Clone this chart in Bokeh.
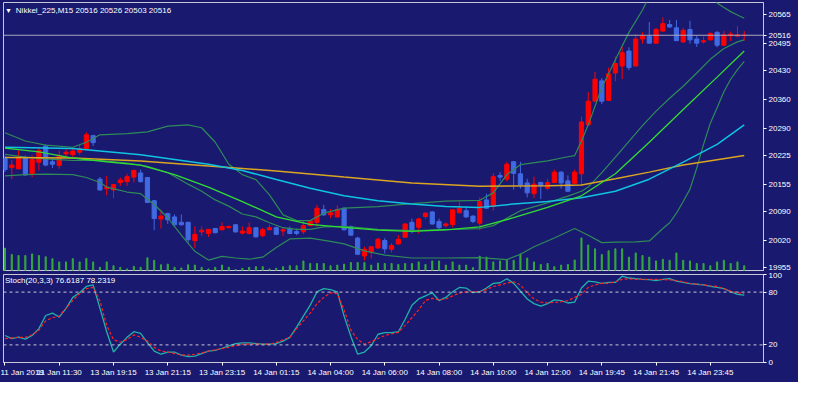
from bokeh.plotting import figure
from bokeh.models import Range1d, FixedTicker, Span, Label, ColumnDataSource
from bokeh.layouts import column
from bokeh.embed import file_html
from bokeh.resources import INLINE

# ---------------- data ----------------
opens = [20219,20197,20194,20219,20182,20210,20249,20211,20202,20230,
         20228,20234,20243,20274,20169,20146,20143,20161,20163,20174,
         20184,20173,20117,20073,20086,20078,20065,20065,20021,20042,
         20038,20050,20047,20052,20059,20039,20038,20052,20033,20047,
         20052,20044,20050,20043,20042,20057,20065,20096,20083,20078,
         20099,20055,20027,19984,19993,20003,20021,20000,20013,20029,
         20065,20053,20079,20090,20067,20057,20060,20088,20093,20080,
         20063,20119,20103,20178,20169,20211,20182,20160,20134,20161,
         20147,20161,20186,20165,20159,20182,20300,20357,20406,20359,
         20425,20442,20478,20442,20507,20513,20497,20526,20542,20534,
         20500,20530,20507,20500,20505,20523,20492,20515,20514,20516]
highs = [20226,20215,20238,20226,20226,20246,20253,20220,20238,20242,
         20246,20253,20282,20276,20174,20177,20157,20173,20182,20192,
         20192,20174,20119,20096,20088,20084,20084,20066,20055,20055,
         20048,20051,20065,20057,20061,20055,20065,20053,20052,20059,
         20055,20052,20055,20050,20069,20069,20107,20107,20097,20106,
         20100,20057,20030,20006,20007,20028,20027,20015,20034,20062,
         20074,20076,20090,20092,20074,20065,20095,20115,20103,20082,
         20125,20134,20183,20186,20211,20213,20211,20170,20175,20163,
         20170,20192,20188,20178,20192,20320,20379,20428,20413,20438,
         20465,20488,20487,20519,20523,20548,20534,20559,20553,20553,
         20534,20551,20515,20513,20523,20526,20526,20525,20538,20526]
lows = [20186,20169,20193,20177,20174,20190,20200,20196,20194,20223,
        20223,20228,20242,20249,20141,20130,20123,20153,20153,20161,
        20161,20111,20046,20050,20061,20053,20057,20015,20003,20032,
        20030,20038,20046,20050,20040,20036,20036,20028,20029,20046,
        20034,20032,20036,20034,20036,20055,20055,20080,20075,20077,
        20045,20032,19986,19973,19978,20002,19990,19992,20011,20029,
        20038,20038,20073,20059,20048,20052,20053,20087,20076,20063,
        20046,20098,20093,20165,20163,20144,20146,20125,20123,20121,
        20142,20160,20146,20138,20158,20153,20298,20356,20350,20358,
        20405,20410,20432,20441,20496,20496,20496,20525,20534,20502,
        20497,20496,20488,20496,20503,20487,20490,20502,20511,20503]
closes = [20192,20203,20223,20179,20216,20238,20203,20205,20226,20234,
          20237,20242,20276,20257,20143,20150,20156,20167,20175,20190,
          20163,20113,20074,20080,20071,20059,20059,20023,20036,20046,
          20048,20040,20055,20055,20042,20044,20052,20030,20047,20052,
          20036,20047,20038,20038,20057,20069,20099,20083,20088,20096,
          20047,20034,19988,20000,20006,20024,20001,20009,20024,20061,
          20046,20073,20087,20061,20052,20061,20095,20099,20078,20067,
          20115,20099,20175,20174,20205,20183,20155,20136,20157,20154,
          20161,20186,20160,20140,20186,20307,20357,20410,20357,20423,
          20448,20474,20438,20507,20515,20497,20530,20544,20536,20503,
          20528,20505,20497,20503,20520,20492,20517,20519,20517,20516]
volumes = [700,500,470,470,520,470,430,370,270,270,
           370,270,380,270,100,270,150,100,50,130,
           100,400,320,180,200,100,80,180,170,100,
           50,100,170,100,30,70,100,120,120,50,
           70,120,150,150,300,220,220,220,150,170,
           200,250,250,250,170,230,220,220,190,220,
           220,270,190,300,300,170,270,170,170,90,
           450,420,270,300,320,320,520,390,270,190,
           220,120,170,190,330,1020,800,680,500,620,
           680,680,420,550,470,420,300,350,320,550,
           320,300,220,220,150,270,320,220,270,150]

gold_x = [0, 10, 20, 30, 40, 50, 60, 70, 80, 85, 90, 95, 100, 105, 109]
gold_ma = [20221, 20220, 20213, 20201, 20189, 20174, 20160, 20152, 20153, 20155,
           20170, 20186, 20203, 20216, 20226]
cyan_x = [0, 10, 20, 30, 35, 40, 45, 50, 55, 60, 65, 70, 75, 80, 85, 90, 95, 100, 105, 109]
cyan_ma = [20246, 20243, 20228, 20205, 20190, 20168, 20147, 20129, 20117, 20109,
           20103, 20101, 20109, 20115, 20124, 20140, 20169, 20210, 20253, 20300]
green_x = [0, 5, 10, 15, 20, 25, 30, 35, 40, 45, 50, 55, 60, 65, 70, 75, 80, 85,
           90, 95, 100, 105, 109]
green_ma = [20244, 20235, 20220, 20211, 20203, 20180, 20150, 20115, 20078, 20060,
            20053, 20046, 20043, 20047, 20054, 20076, 20101, 20129, 20182, 20258,
            20337, 20415, 20478]

bb_up_x = [0, 3, 6, 10, 12, 14, 18, 21, 24, 27, 29, 31, 33, 35, 37, 39, 41, 43, 45, 47,
           50, 55, 60, 65, 70, 72, 74, 76, 80, 83, 84, 85, 86, 88, 90, 92, 94, 95, 96,
           97, 98, 99, 100, 101, 102, 103, 104, 105, 106, 107, 108, 109]
bb_upper = [20281, 20261, 20251, 20246, 20258, 20276, 20279, 20283, 20297, 20300,
            20293, 20258, 20205, 20180, 20168, 20131, 20083, 20069, 20069, 20087,
            20099, 20103, 20110, 20116, 20118, 20136, 20180, 20204, 20213, 20223,
            20226, 20261, 20300, 20390, 20457, 20523, 20577, 20610, 20630, 20650,
            20665, 20672, 20670, 20660, 20648, 20630, 20612, 20594, 20583, 20573,
            20565, 20557]
bb_mid_x = [0, 3, 6, 10, 14, 18, 21, 24, 27, 29, 31, 33, 35, 37, 39, 41, 43, 45, 47, 50,
            55, 60, 65, 70, 72, 74, 76, 80, 83, 85, 86, 88, 90, 92, 94, 96, 98, 100,
            102, 104, 106, 108, 109]
bb_middle = [20229, 20222, 20218, 20214, 20214, 20208, 20200, 20185, 20157, 20140,
             20119, 20104, 20085, 20078, 20064, 20052, 20048, 20048, 20054, 20055,
             20048, 20045, 20047, 20050, 20057, 20075, 20093, 20112, 20128, 20140,
             20150, 20185, 20222, 20260, 20298, 20333, 20364, 20393, 20425, 20458,
             20484, 20500, 20505]
bb_lo_x = [0, 3, 6, 10, 12, 14, 15, 18, 20, 22, 24, 26, 28, 30, 32, 34, 36, 38, 40, 42,
           45, 48, 50, 53, 56, 60, 65, 70, 74, 76, 78, 81, 84, 86, 88, 90, 93, 95, 97,
           98, 99, 100, 101, 102, 103, 104, 105, 106, 107, 108, 109]
bb_lower = [20177, 20180, 20181, 20180, 20173, 20161, 20150, 20138, 20134, 20108,
            20076, 20034, 19995, 19974, 19983, 19979, 19976, 19981, 20004, 20025,
            20027, 20019, 20013, 19996, 19986, 19979, 19979, 19980, 19975, 19988,
            20006, 20027, 20050, 20034, 20016, 20017, 20018, 20020, 20050, 20064,
            20087, 20115, 20145, 20196, 20253, 20304, 20341, 20380, 20410, 20433,
            20453]

stoch_k = [30.7,27.2,28.9,26.5,30.7,38.5,53.4,56.2,51.6,61.6,
           74,79.3,86.4,88.2,61.6,35,11.9,20.8,28.6,35,
           33.2,22.6,13,9.4,11.9,11.9,8.4,6.6,7.3,10.1,
           13,13.7,16.2,19,21.5,22.2,22.2,21.5,20.8,20.8,
           21.5,24.3,28.6,40.3,52.7,65.1,80.4,83.9,82.8,80.4,
           52.7,29.6,9.4,11.9,19,32.1,33.9,33.9,35,49.1,
           65.1,72.2,75.7,79.3,70.4,74,80.4,85.3,84.6,79.3,
           80.4,84.6,89.9,90.6,95.2,89.9,81.1,72.2,66.9,64,
           66.9,71.1,70.4,67.6,68.7,84.6,92.4,91.7,89.9,91,
           91,98.1,96,95.2,94.5,94.2,93.1,94.5,95.2,92.4,
           91,89.6,88.9,88.2,86.4,85.3,83.9,80.4,77.5,76.6187]
stoch_d = [27.2,27.9,28.6,28.6,31.4,36.7,47.4,50.9,52.7,61.6,
           70.4,78.2,83.9,85.3,70,42,26,23,26.1,31.4,
           28.6,24.3,17.2,13,11.9,10.1,8.7,8.4,9.4,10.9,
           13,14.4,15.8,17.2,19.4,20.8,20.8,20.8,20.8,20.8,
           22.9,25.7,28.6,38.5,47.4,56.2,66.9,74,79.3,78.2,
           59.8,36.7,26.1,20.8,23.6,27.2,30.7,32.5,34.3,42.1,
           50.9,59.8,70.4,72.9,71.1,72.2,75.7,78.9,80.4,80.4,
           80.4,82.8,86.4,88.2,90.3,91.7,88.2,79.3,72.2,68.7,
           67.6,68.3,69,70.4,74,77.5,85.3,88.2,89.9,89.9,
           91.7,94.5,95.2,94.5,94.5,94.5,94.5,94.2,93.8,93.1,
           91.7,89.9,88.9,88.2,87.1,86.4,83.9,81.1,79.3,78.2319]

price_ticks = [19955, 20020, 20090, 20155, 20225, 20290, 20360, 20430, 20495, 20565]
stoch_ticks = [0, 20, 80, 100]
time_tick_idx = [0, 8, 16, 24, 32, 40, 48, 56, 64, 72, 80, 88, 96, 104]
time_labels = ["11 Jan 2019", "11 Jan 11:30", "13 Jan 19:15", "13 Jan 21:15",
               "13 Jan 23:15", "14 Jan 01:15", "14 Jan 04:00", "14 Jan 06:00",
               "14 Jan 08:00", "14 Jan 10:00", "14 Jan 12:00", "14 Jan 19:45",
               "14 Jan 21:45", "14 Jan 23:45"]

# ---------------- style ----------------
BG = "#191970"
FONT = "Liberation Sans"
FS = "8px"
BULL = "#FF0000"
BEAR = "#4169E1"
FRAME = "#C8C8D4"

idx = list(range(len(opens)))
src = ColumnDataSource(dict(
    x=idx, h=highs, l=lows,
    top=[max(o, c) for o, c in zip(opens, closes)],
    bottom=[min(o, c) for o, c in zip(opens, closes)],
    color=[BULL if c >= o else BEAR for o, c in zip(opens, closes)],
    vol=volumes))

x_range = Range1d(-0.22, 111.84)

p = figure(width=798, height=272, x_range=x_range, y_range=Range1d(19948.8, 20595),
           output_backend="svg", toolbar_location=None, y_axis_location="right",
           min_border_left=3, min_border_right=35, min_border_top=2, min_border_bottom=2,
           background_fill_color=BG, border_fill_color=BG,
           outline_line_color=FRAME, outline_line_width=1)
p.xaxis.visible = False
p.grid.visible = False
p.extra_y_ranges = {"vol": Range1d(0, 8400)}

yax = p.yaxis[0]
# price scale ticks plus the current bid price shown on the scale
yax.ticker = FixedTicker(ticks=price_ticks + [closes[-1]])
yax.major_label_text_color = "white"
yax.major_label_text_font = FONT
yax.major_label_text_font_size = FS
yax.major_tick_line_color = "white"
yax.major_tick_out = 3
yax.major_tick_in = 0
yax.minor_tick_line_color = None
yax.axis_line_color = FRAME
yax.major_label_standoff = 2

# volumes
p.vbar(x="x", top="vol", bottom=0, width=0.16, y_range_name="vol",
       color="#36A83E", source=src)

# candles
p.segment(x0="x", y0="l", x1="x", y1="h", color="color", line_width=1, source=src)
p.vbar(x="x", top="top", bottom="bottom", width=0.62, fill_color="color",
       line_color="color", line_width=1, source=src)

# indicators
p.line(bb_up_x, bb_upper, color="#2E8B57", line_width=1.2)
p.line(bb_mid_x, bb_middle, color="#2E8B57", line_width=1.2)
p.line(bb_lo_x, bb_lower, color="#2E8B57", line_width=1.2)
p.line(gold_x, gold_ma, color="#DAA520", line_width=1.5)
p.line(cyan_x, cyan_ma, color="#10C4E0", line_width=1.5)
p.line(green_x, green_ma, color="#32DC32", line_width=1.3)

# bid line
p.add_layout(Span(location=closes[-1], dimension="width", line_color="#A8A8BC",
                  line_width=1))
p.add_layout(Label(x=0.0, y=20576.5, text="\u25BC", text_font=FONT,
                   text_font_size="7px", text_color="white", text_baseline="middle"))
p.add_layout(Label(x=1.6, y=20576.5,
                   text=f"Nikkei_225,M15  {opens[-1]} {highs[-1]} {lows[-1]} {closes[-1]}",
                   text_font=FONT, text_font_size=FS, text_color="white",
                   text_baseline="middle"))

# ---------------- stochastic ----------------
s = figure(width=798, height=110, x_range=x_range, y_range=Range1d(0, 100),
           output_backend="svg", toolbar_location=None, y_axis_location="right",
           min_border_left=3, min_border_right=35, min_border_top=2, min_border_bottom=20,
           background_fill_color=BG, border_fill_color=BG,
           outline_line_color=FRAME, outline_line_width=1)
s.grid.visible = False
sy = s.yaxis[0]
sy.ticker = FixedTicker(ticks=stoch_ticks)
sx = s.xaxis[0]
sx.ticker = FixedTicker(ticks=time_tick_idx)
sx.major_label_overrides = {i: lab for i, lab in zip(time_tick_idx, time_labels)}
sx.major_label_text_align = "left"
for ax in (sy, sx):
    ax.major_label_text_color = "white"
    ax.major_label_text_font = FONT
    ax.major_label_text_font_size = FS
    ax.major_tick_line_color = "white"
    ax.major_tick_out = 3
    ax.major_tick_in = 0
    ax.minor_tick_line_color = None
    ax.axis_line_color = FRAME
    ax.major_label_standoff = 2

for lvl in (20, 80):
    s.add_layout(Span(location=lvl, dimension="width", line_color=FRAME,
                      line_dash="3 3", line_width=1))
s.line(idx, stoch_k, color="#20B2AA", line_width=1.3)
s.line(idx, stoch_d, color="#FF2020", line_width=1.2, line_dash="3 2")
s.add_layout(Label(x=0.0, y=93, text=f"Stoch(20,3,3) {stoch_k[-1]} {stoch_d[-1]}",
                   text_font=FONT, text_font_size=FS, text_color="white",
                   text_baseline="middle"))

layout = column(p, s, spacing=0, styles={"background-color": BG})
open("out.html", "w").write(file_html(layout, INLINE))
